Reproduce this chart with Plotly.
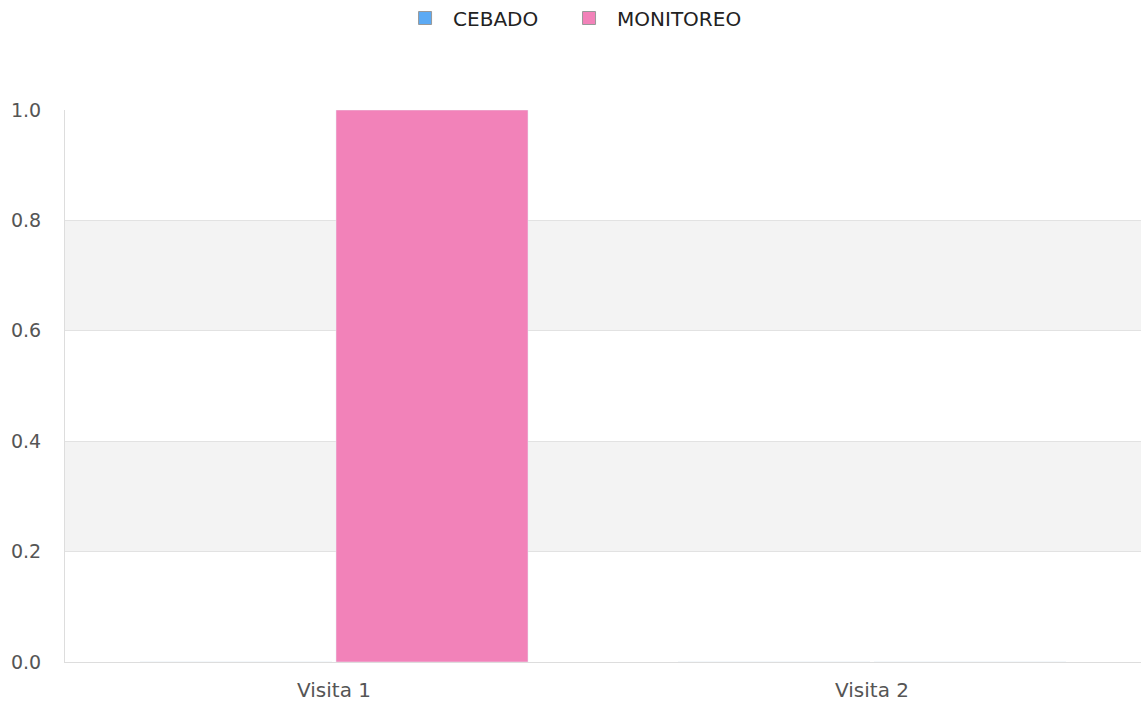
import plotly.graph_objects as go

categories = ["Visita 1", "Visita 2"]
cebado = [0, 0]
monitoreo = [1, 0]
y_ticks = [0.0, 0.2, 0.4, 0.6, 0.8, 1.0]
bands = [(0.2, 0.4), (0.6, 0.8)]

BLUE = "#5caaf4"
PINK = "#f282b9"
XFONT = dict(family="DejaVu Sans", size=20, color="#555555")
YFONT = dict(family="DejaVu Sans", size=19, color="#555555")
LFONT = dict(family="DejaVu Sans", size=20, color="#222222")

fig = go.Figure()
fig.add_trace(go.Bar(name="CEBADO", x=categories, y=cebado,
                     marker=dict(color=BLUE), showlegend=False))
fig.add_trace(go.Bar(name="MONITOREO", x=categories, y=monitoreo,
                     marker=dict(color=PINK), showlegend=False))

# legend-only entries (square swatches with grey border)
fig.add_trace(go.Scatter(name="CEBADO", x=[None], y=[None], mode="markers",
                         marker=dict(symbol="square", size=13, color=BLUE,
                                     line=dict(color="#999999", width=1)),
                         legend="legend", hoverinfo="skip"))
fig.add_trace(go.Scatter(name="MONITOREO", x=[None], y=[None], mode="markers",
                         marker=dict(symbol="square", size=13, color=PINK,
                                     line=dict(color="#999999", width=1)),
                         legend="legend2", hoverinfo="skip"))

for y0, y1 in bands:
    fig.add_shape(type="rect", xref="paper", yref="y", x0=0, x1=1, y0=y0, y1=y1,
                  fillcolor="#f3f3f3", line=dict(width=0), layer="below")

leg_common = dict(orientation="h", yref="container", y=0.9746, yanchor="middle",
                  xanchor="left", font=LFONT, itemwidth=46,
                  bgcolor="rgba(0,0,0,0)")

fig.update_layout(
    width=1141, height=709,
    margin=dict(l=65, r=0, t=110, b=47),
    paper_bgcolor="white", plot_bgcolor="white",
    barmode="group", bargap=0.2714, bargroupgap=0.0204,
    font=XFONT,
    legend=dict(x=0.3086, **leg_common),
    legend2=dict(x=0.461, **leg_common),
    xaxis=dict(showgrid=False, showline=True, linecolor="#dddddd", linewidth=1,
               ticks="", ticklabelstandoff=10, tickfont=XFONT),
    yaxis=dict(range=[0, 1], tickvals=y_ticks, tickformat=".1f",
               showgrid=True, gridcolor="#e2e2e2", gridwidth=1,
               showline=True, linecolor="#dddddd", linewidth=1, zeroline=False,
               ticks="", ticklabelstandoff=19, tickfont=YFONT),
)

fig.write_html(
    "out.html",
    config={"displayModeBar": False},
    post_script="document.body.style.margin='0';document.body.style.overflow='hidden';",
)
